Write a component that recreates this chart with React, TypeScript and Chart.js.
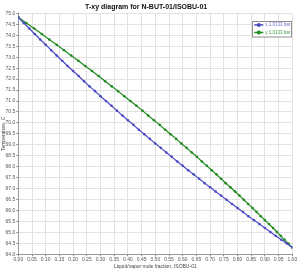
import React, { useEffect, useRef } from 'react';
import { Chart, registerables } from 'chart.js';

Chart.register(...registerables);

const titleText = 'T-xy diagram for N-BUT-01/ISOBU-01';
const xAxisTitle = 'Liquid/vapor mole fraction, ISOBU-01';
const yAxisTitle = 'Temperature, C';
const seriesLabels = ['x 1.0133 bar', 'y 1.0133 bar'];

// liquid mole fraction of ISOBU-01
const liquidX = [
  0, 0.02, 0.04, 0.06, 0.08, 0.1, 0.12, 0.14, 0.16, 0.18, 0.2, 0.22, 0.24, 0.26, 0.28, 0.3,
  0.32, 0.34, 0.36, 0.38, 0.4, 0.42, 0.44, 0.46, 0.48, 0.5, 0.52, 0.54, 0.56, 0.58, 0.6,
  0.62, 0.64, 0.66, 0.68, 0.7, 0.72, 0.74, 0.76, 0.78, 0.8, 0.82, 0.84, 0.86, 0.88, 0.9,
  0.92, 0.94, 0.96, 0.98, 1.0,
];

// vapor mole fraction of ISOBU-01 at the same temperatures
const vaporY = [
  0, 0.029, 0.058, 0.086, 0.113, 0.14, 0.167, 0.193, 0.219, 0.244, 0.269, 0.293, 0.317, 0.341,
  0.364, 0.387, 0.409, 0.431, 0.453, 0.474, 0.495, 0.516, 0.536, 0.556, 0.576, 0.595, 0.614,
  0.633, 0.652, 0.67, 0.688, 0.706, 0.723, 0.74, 0.757, 0.774, 0.791, 0.807, 0.823, 0.839,
  0.855, 0.87, 0.885, 0.9, 0.915, 0.93, 0.944, 0.958, 0.972, 0.986, 1.0,
];

// temperature, C
const temperature = [
  74.82, 74.56, 74.31, 74.06, 73.81, 73.57, 73.32, 73.08, 72.84, 72.6, 72.37, 72.14, 71.9,
  71.67, 71.45, 71.22, 71.0, 70.78, 70.56, 70.34, 70.12, 69.91, 69.69, 69.48, 69.27, 69.06,
  68.86, 68.65, 68.45, 68.24, 68.04, 67.84, 67.65, 67.45, 67.25, 67.06, 66.87, 66.68, 66.49,
  66.3, 66.11, 65.93, 65.74, 65.56, 65.38, 65.2, 65.02, 64.84, 64.66, 64.49, 64.31,
];

const seriesColors = ['#4a4ac4', '#1f8a1f'];
const legendTextColors = ['#6a6ad0', '#3c9a3c'];

const legendBox = {
  id: 'legendBox',
  afterDraw(chart: any) {
    const ctx = chart.ctx;
    const a = chart.chartArea;
    const w = 40;
    const h = 16.5;
    const x0 = a.right - w;
    const y0 = a.top + 7.3;
    ctx.save();
    ctx.fillStyle = '#ffffff';
    ctx.fillRect(x0, y0, w, h);
    ctx.strokeStyle = '#8c8c8c';
    ctx.lineWidth = 1;
    ctx.strokeRect(Math.round(x0) + 0.5, Math.round(y0) + 0.5, w - 1, h - 1);
    chart.data.datasets.forEach((ds: any, i: number) => {
      const cy = y0 + 4.2 + i * 7.6;
      ctx.strokeStyle = ds.borderColor;
      ctx.lineWidth = 1.5;
      ctx.beginPath();
      ctx.moveTo(x0 + 2, cy);
      ctx.lineTo(x0 + 11, cy);
      ctx.stroke();
      ctx.fillStyle = ds.borderColor;
      ctx.beginPath();
      ctx.arc(x0 + 6.5, cy, 2, 0, Math.PI * 2);
      ctx.fill();
      ctx.fillStyle = legendTextColors[i];
      ctx.font = '4.5px "Liberation Sans", Arial, sans-serif';
      ctx.textAlign = 'left';
      ctx.textBaseline = 'middle';
      ctx.fillText(ds.label, x0 + 13, cy + 0.3);
    });
    ctx.restore();
  },
};

export default function App() {
  const ref = useRef<HTMLCanvasElement | null>(null);

  useEffect(() => {
    if (!ref.current) return;
    const liquidPts = liquidX.map((x, i) => ({ x, y: temperature[i] }));
    const vaporPts = vaporY.map((x, i) => ({ x, y: temperature[i] }));
    const font = 'Liberation Sans, Arial, sans-serif';
    const chart = new Chart(ref.current, {
      type: 'line',
      data: {
        datasets: [
          {
            label: seriesLabels[0],
            data: liquidPts,
            borderColor: seriesColors[0],
            backgroundColor: seriesColors[0],
            borderWidth: 1.2,
            pointRadius: 1.3,
            pointHoverRadius: 1.3,
            pointBorderWidth: 0,
            tension: 0,
          },
          {
            label: seriesLabels[1],
            data: vaporPts,
            borderColor: seriesColors[1],
            backgroundColor: seriesColors[1],
            borderWidth: 1.2,
            pointRadius: 1.3,
            pointHoverRadius: 1.3,
            pointBorderWidth: 0,
            tension: 0,
          },
        ],
      },
      options: {
        responsive: false,
        animation: false,
        events: [],
        layout: { padding: { left: 0, right: 7.7, top: 0, bottom: 0 } },
        plugins: {
          legend: { display: false },
          tooltip: { enabled: false },
          title: {
            display: true,
            text: titleText,
            color: '#111',
            font: { family: font, size: 7, weight: 'bold', lineHeight: 1.2 },
            padding: { top: 3, bottom: 2 },
          },
        },
        scales: {
          x: {
            type: 'linear',
            min: 0,
            max: 1,
            afterFit: (s: any) => {
              s.height = 18.7;
            },
            ticks: {
              stepSize: 0.05,
              autoSkip: false,
              maxRotation: 0,
              padding: 0,
              color: '#555',
              font: { family: font, size: 5 },
              callback: (v: any) => Number(v).toFixed(2),
            },
            grid: { color: '#e2e2e2', tickColor: '#888', tickLength: 2, lineWidth: 1 },
            border: { color: '#999' },
            title: {
              display: true,
              text: xAxisTitle,
              color: '#444',
              font: { family: font, size: 5, lineHeight: 1.2 },
              padding: { top: 0, bottom: 3 },
            },
          },
          y: {
            type: 'linear',
            min: 64,
            max: 75,
            afterFit: (s: any) => {
              s.width = 18.3;
            },
            ticks: {
              stepSize: 0.5,
              autoSkip: false,
              padding: 1,
              color: '#555',
              font: { family: font, size: 5 },
              callback: (v: any) => Number(v).toFixed(1),
            },
            grid: { color: '#e2e2e2', tickColor: '#888', tickLength: 2, lineWidth: 1 },
            border: { color: '#999' },
            title: {
              display: true,
              text: yAxisTitle,
              color: '#444',
              font: { family: font, size: 5, lineHeight: 1.2 },
              padding: { top: 1, bottom: 0 },
            },
          },
        },
      },
      plugins: [legendBox],
    });
    return () => chart.destroy();
  }, []);

  return (
    <div style={{ position: 'absolute', left: 0, top: 0, width: 300, height: 273, background: '#fff' }}>
      <canvas ref={ref} width={300} height={273} style={{ display: 'block' }} />
    </div>
  );
}
